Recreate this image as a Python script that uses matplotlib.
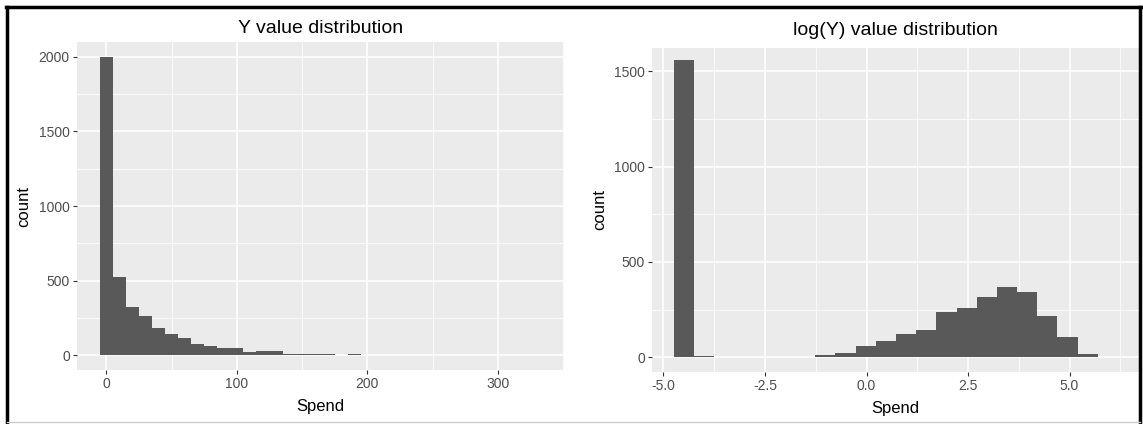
import numpy as np
import matplotlib
matplotlib.use("Agg")
import matplotlib.pyplot as plt
from matplotlib.lines import Line2D

plt.rcParams['font.family'] = ['Liberation Sans', 'DejaVu Sans']

# left panel: raw Spend, binwidth 10
y_edges = np.arange(-5, 336, 10)
y_counts = [1998, 521, 322, 262, 183, 139, 114, 76, 60, 45, 45, 22, 29, 29,
            7, 7, 7, 7, 0, 7] + [0] * 14

# right panel: log(Spend)
log_start = -4.74
log_width = 0.497
log_counts = [1560, 7, 0, 0, 0, 0, 0, 12, 22, 59, 84, 120, 143, 239, 258,
              318, 367, 341, 215, 108, 16]
log_edges = log_start + log_width * np.arange(len(log_counts) + 1)

titles = ["Y value distribution", "log(Y) value distribution"]

W, H = 1143, 424
fig = plt.figure(figsize=(W / 100, H / 100), dpi=100)

def px_axes(x0, x1, top, bottom):
    return fig.add_axes([x0 / W, (H - bottom) / H, (x1 - x0) / W, (bottom - top) / H])

def gg_style(ax, xmajor, xminor, ymajor, yminor):
    ax.set_facecolor('#EBEBEB')
    for s in ax.spines.values():
        s.set_visible(False)
    ax.set_xticks(xmajor)
    ax.set_xticks(xminor, minor=True)
    ax.set_yticks(ymajor)
    ax.set_yticks(yminor, minor=True)
    ax.grid(which='major', color='white', linewidth=1.1)
    ax.grid(which='minor', color='white', linewidth=0.55)
    ax.set_axisbelow(True)
    ax.tick_params(which='major', length=3, width=0.8, color='#333333',
                   labelcolor='#4D4D4D', labelsize=10, pad=2)
    ax.tick_params(which='minor', length=0)
    ax.set_xlabel('Spend', fontsize=12, labelpad=6)
    ax.set_ylabel('count', fontsize=12, labelpad=5)

ax1 = px_axes(76.7, 564, 42.3, 370)
ax1.bar(y_edges[:-1], y_counts, width=np.diff(y_edges), align='edge', color='#595959')
ax1.set_xlim(-22.7, 350.6)
ax1.set_ylim(-100, 2098)
gg_style(ax1, [0, 100, 200, 300], [50, 150, 250, 350],
         [0, 500, 1000, 1500, 2000], [250, 750, 1250, 1750])
ax1.set_title(titles[0], fontsize=14, pad=7)

ax2 = px_axes(651.7, 1139, 48.3, 371.7)
ax2.bar(log_edges[:-1], log_counts, width=np.diff(log_edges), align='edge', color='#595959')
ax2.set_xlim(-5.29, 6.71)
ax2.set_ylim(-76, 1620)
gg_style(ax2, [-5, -2.5, 0, 2.5, 5], [-3.75, -1.25, 1.25, 3.75, 6.25],
         [0, 500, 1000, 1500], [250, 750, 1250])
ax2.set_xticklabels(['-5.0', '-2.5', '0.0', '2.5', '5.0'])
ax2.set_title(titles[1], fontsize=14, pad=9.5)

# frame around the whole picture
fig.add_artist(Line2D([6.5 / W, 6.5 / W], [0, 1 - 6.5 / H], color='black', linewidth=2.5))
fig.add_artist(Line2D([5.5 / W, 1140.5 / W], [1 - 6.5 / H, 1 - 6.5 / H], color='black', linewidth=2.5))
fig.add_artist(Line2D([1140 / W, 1140 / W], [0, 1 - 6.5 / H], color='black', linewidth=2.5))
fig.add_artist(Line2D([6.5 / W, 1140 / W], [2 / H, 2 / H], color='#CCCCCC', linewidth=1))

fig.savefig('out.png', dpi=100)
